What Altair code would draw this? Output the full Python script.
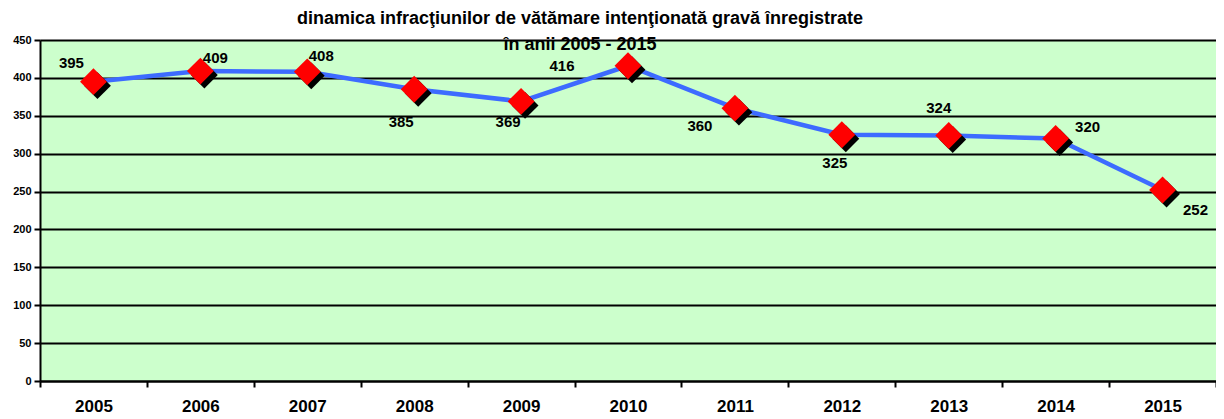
import altair as alt
import pandas as pd

years = ["2005", "2006", "2007", "2008", "2009", "2010", "2011", "2012", "2013", "2014", "2015"]
values = [395, 409, 408, 385, 369, 416, 360, 325, 324, 320, 252]
# label placement offsets (pixels) relative to each point
label_dx = [-22, 15, 14, -13, -13, -66, -35, -7, -10, 32, 33]
label_dy = [-19, -13, -16, 33, 21, 0, 18, 28, -27, -12, 20]

df = pd.DataFrame({"year": years, "value": values})

FONT = "Liberation Sans"
PLOT_W = 1176

x = alt.X("year:N", sort=years, title=None,
          scale=alt.Scale(paddingInner=0, paddingOuter=0),
          axis=alt.Axis(labelFontSize=17, labelFontWeight="bold", labelFont=FONT,
                        labelColor="black", labelAngle=0, ticks=True, tickSize=6, tickWidth=2,
                        tickColor="black", tickBand="extent",
                        domain=True, domainColor="black", domainWidth=2, labelPadding=11))
y = alt.Y("value:Q", title=None,
          scale=alt.Scale(domain=[0, 450], nice=False),
          axis=alt.Axis(values=list(range(0, 451, 50)), labelFontSize=11, labelFontWeight="bold",
                        labelFont=FONT, labelColor="black", grid=True, gridColor="black",
                        gridWidth=2, domainColor="black", domainWidth=2, tickColor="black",
                        tickWidth=2, tickSize=6, labelPadding=3))

base = alt.Chart(df)

line = base.mark_line(color="#3D6BFF", strokeWidth=4.5).encode(x=x, y=y)
shadow = base.mark_point(shape="square", angle=45, filled=True, color="black", opacity=1,
                         size=360, xOffset=4, yOffset=4).encode(x=x, y=y)
marker = base.mark_point(shape="square", angle=45, filled=True, color="#FF0000", opacity=1,
                         size=360).encode(x=x, y=y)

labels = []
for yr, dx, dy in zip(years, label_dx, label_dy):
    labels.append(
        base.transform_filter(alt.datum.year == yr)
        .mark_text(font=FONT, fontSize=15, fontWeight="bold", color="black", dx=dx, dy=dy)
        .encode(x=x, y=y, text="value:Q")
    )

chart = alt.layer(line, shadow, marker, *labels).properties(
    width=PLOT_W, height=341,
    padding={"left": 32, "top": 32, "right": 0, "bottom": 38},
    autosize=alt.AutoSizeParams(type="none"),
    background="white",
    title=alt.TitleParams(
        text=["dinamica infracţiunilor de vătămare intenţionată gravă înregistrate",
              "în anii 2005 - 2015"],
        font=FONT, fontSize=18, fontWeight="bold", color="black",
        anchor="middle", dx=-48, offset=-20, lineHeight=26,
    ),
).configure_view(fill="#CCFFCC", stroke=None)

chart.save("out.html", embed_options={"renderer": "svg", "actions": False})
